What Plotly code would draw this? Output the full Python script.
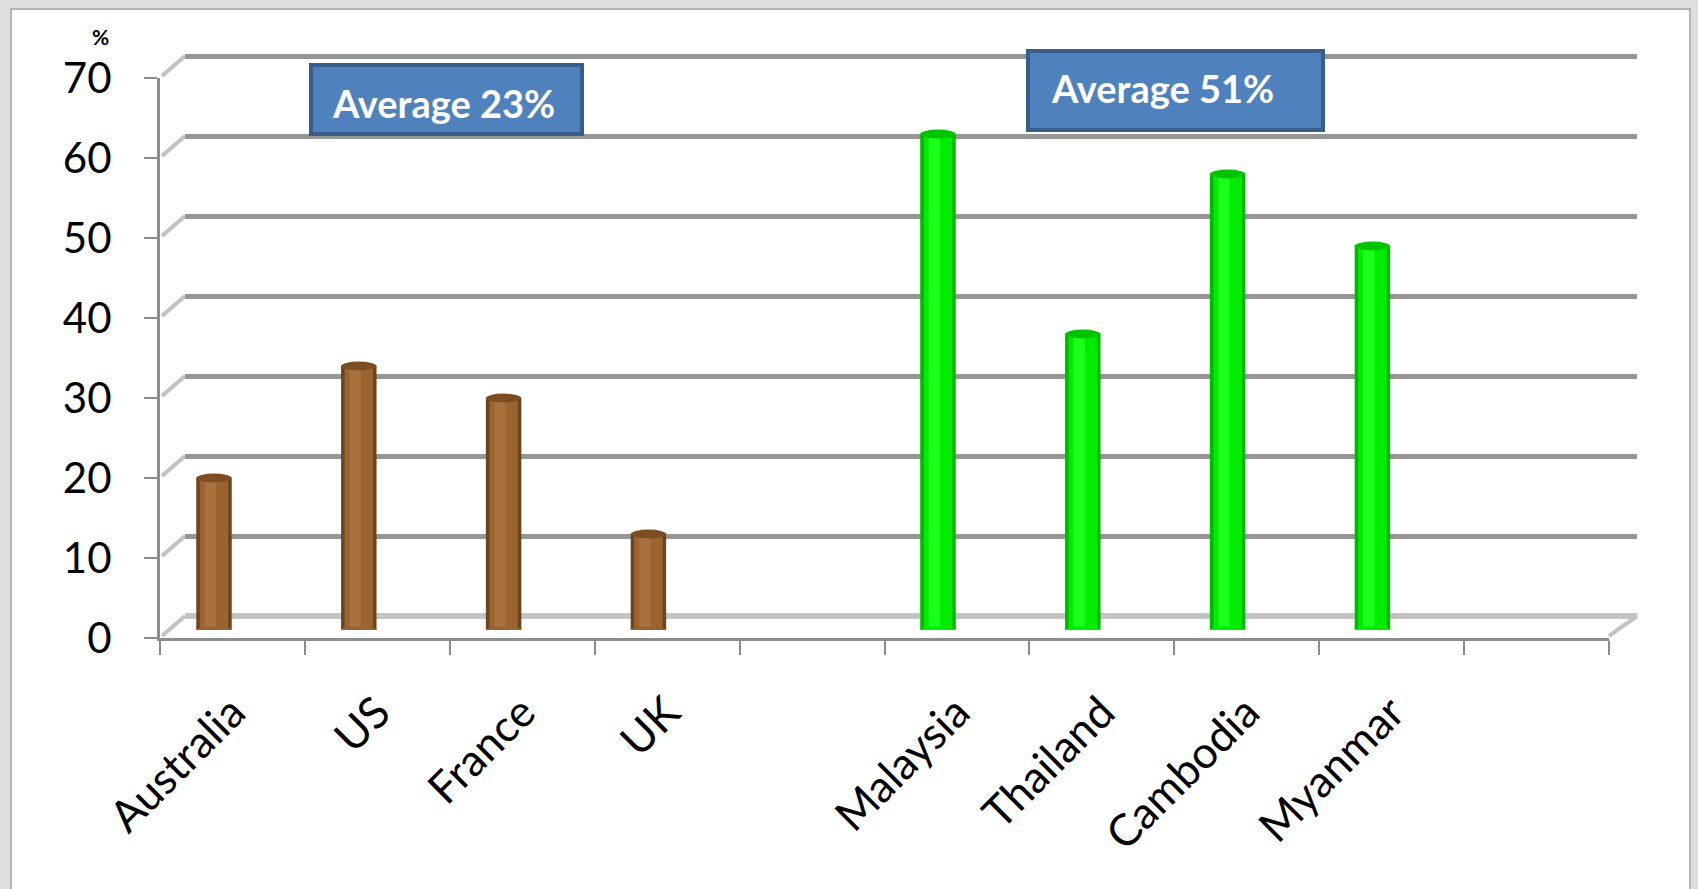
import plotly.graph_objects as go

# ---- data ----
categories = ["Australia", "US", "France", "UK", " ", "Malaysia", "Thailand", "Cambodia", "Myanmar", "  "]
western = ["Australia", "US", "France", "UK"]
western_values = [19, 33, 29, 12]
asian = ["Malaysia", "Thailand", "Cambodia", "Myanmar"]
asian_values = [62, 37, 57, 48]
y_ticks = [0, 10, 20, 30, 40, 50, 60, 70]
avg_labels = ["Average 23%", "Average 51%"]

# ---- geometry helpers (pixels -> paper) ----
W, H = 1698, 889
PPU = 8.0  # pixels per percentage point


def px(x):
    return x / W


def py(y):
    return 1 - y / H


FRONT_X0, FRONT_X1, FRONT_Y0 = 160, 1609, 638
BACK_X0, BACK_X1, BACK_Y0 = 185, 1637, 616
BAR_X0, BAR_X1, BAR_Y0 = 141.6, 1589.6, 630
YMAX = 70
PAD = 0.3  # a little headroom so the top gridline is kept

GRID = "#969696"
AXIS = "#8c8c8c"
FONT = "Lato"

fig = go.Figure()

# back wall: carries the horizontal gridlines
fig.add_trace(go.Scatter(x=[0, 1], y=[None, None], xaxis="x2", yaxis="y2",
                         showlegend=False, hoverinfo="skip"))

# front axes: category labels and the value scale
fig.add_trace(go.Scatter(x=categories, y=[0] * len(categories), mode="markers",
                         marker=dict(opacity=0), showlegend=False, hoverinfo="skip"))


def idx(names):
    return [categories.index(n) for n in names]


BW = 0.245  # cylinder width in category units


def cylinder(names, values, edge, mid, light, cap):
    xs = idx(names)
    layers = [(BW, 0, edge), (BW * 0.8, 0, mid), (BW * 0.32, -BW * 0.1, light)]
    for w, off, col in layers:
        fig.add_trace(go.Bar(x=xs, y=values, width=w, offset=off - w / 2,
                             marker=dict(color=col, line=dict(width=0)),
                             xaxis="x3", yaxis="y3", showlegend=False,
                             hoverinfo="skip"))
    shapes = []
    for x, v in zip(xs, values):
        shapes.append(dict(type="circle", xref="x3", yref="y3",
                           x0=x - BW / 2, x1=x + BW / 2, y0=v - 0.55, y1=v + 0.55,
                           fillcolor=cap, line=dict(width=0), layer="above"))
        shapes.append(dict(type="circle", xref="x3", yref="y3",
                           x0=x - BW / 2, x1=x + BW / 2, y0=-0.45, y1=0.45,
                           fillcolor=mid, line=dict(width=0), layer="above"))
    return shapes


shapes = []
# white chart panel with thin frame
shapes.append(dict(type="rect", xref="paper", yref="paper", x0=px(11), x1=px(1690),
                   y0=py(905), y1=py(9), fillcolor="white",
                   line=dict(color="#b4b4b4", width=2), layer="below"))

# side-wall diagonals joining the front scale to the back gridlines
for t in y_ticks:
    shapes.append(dict(type="line", xref="paper", yref="paper",
                       x0=px(FRONT_X0 + 2), y0=py(FRONT_Y0 - t * PPU - 2),
                       x1=px(BACK_X0), y1=py(BACK_Y0 - t * PPU),
                       line=dict(color="#c2c2c2", width=4), layer="below"))
# right edge of the floor
shapes.append(dict(type="line", xref="paper", yref="paper",
                   x0=px(FRONT_X1), y0=py(FRONT_Y0 - 2), x1=px(BACK_X1), y1=py(BACK_Y0),
                   line=dict(color="#c2c2c2", width=4), layer="below"))

shapes += cylinder(western, western_values, "#6e441e", "#9a6431", "#a9713c", "#7c4d22")
shapes += cylinder(asian, asian_values, "#00b800", "#00ec00", "#1cff1c", "#00c400")

# average call-out boxes
boxes = [(311, 65, 582, 134), (1028, 51, 1323, 130)]
text_pos = [(330, 103), (1049, 88)]
annotations = []
for (x0, y0, x1, y1), (tx, ty), label in zip(boxes, text_pos, avg_labels):
    shapes.append(dict(type="rect", xref="paper", yref="paper",
                       x0=px(x0), x1=px(x1), y0=py(y1), y1=py(y0),
                       fillcolor="#4f81bd", line=dict(color="#385d8a", width=4),
                       layer="above"))
    annotations.append(dict(text=f"<b>{label}</b>", xref="paper", yref="paper",
                            x=px(tx), y=py(ty), xanchor="left", yanchor="middle",
                            showarrow=False, font=dict(family=FONT, size=38, color="white")))

annotations.append(dict(text="<b>%</b>", xref="paper", yref="paper", x=px(100), y=py(36),
                        xanchor="center", yanchor="middle", showarrow=False,
                        font=dict(family=FONT, size=21, color="black")))

fig.update_layout(
    template="none",
    width=W, height=H, margin=dict(l=0, r=0, t=0, b=0, pad=0, autoexpand=False),
    paper_bgcolor="#dedede", plot_bgcolor="rgba(0,0,0,0)",
    barmode="overlay", shapes=shapes, annotations=annotations, showlegend=False,
    font=dict(family=FONT, color="black"),
    xaxis=dict(domain=[px(FRONT_X0), px(FRONT_X1)], anchor="y", type="category",
               categoryorder="array", categoryarray=categories, range=[-0.5, 9.5],
               tickson="boundaries", ticks="outside", ticklen=14, tickwidth=2,
               tickcolor=AXIS, showline=True, linecolor=AXIS, linewidth=3,
               showgrid=False, zeroline=False, tickangle=-45, ticklabelstandoff=28,
               automargin=False,
               tickfont=dict(family=FONT, size=44, color="black")),
    yaxis=dict(domain=[py(FRONT_Y0), py(FRONT_Y0 - YMAX * PPU)], anchor="x",
               range=[0, YMAX], tickvals=y_ticks, ticks="outside", ticklen=13,
               tickwidth=2, tickcolor=AXIS, showline=True, linecolor=AXIS,
               linewidth=3, showgrid=False, zeroline=False, ticklabelstandoff=24,
               automargin=False,
               tickfont=dict(family=FONT, size=42, color="black")),
    xaxis2=dict(domain=[px(BACK_X0), px(BACK_X1)], anchor="y2", range=[0, 1],
                visible=False, automargin=False),
    yaxis2=dict(domain=[py(BACK_Y0), py(BACK_Y0 - (YMAX + PAD) * PPU)], anchor="x2",
                range=[0, YMAX + PAD], tickvals=y_ticks, showgrid=True, gridcolor=GRID,
                gridwidth=5, zeroline=True, zerolinecolor="#c4c4c4", zerolinewidth=6,
                showticklabels=False, ticks="", showline=False, automargin=False),
    xaxis3=dict(domain=[px(BAR_X0), px(BAR_X1)], anchor="y3", range=[-0.5, 9.5],
                visible=False, automargin=False),
    yaxis3=dict(domain=[py(BAR_Y0), py(BAR_Y0 - YMAX * PPU)], anchor="x3",
                range=[0, YMAX], visible=False, automargin=False),
)

fig.write_html("out.html")
